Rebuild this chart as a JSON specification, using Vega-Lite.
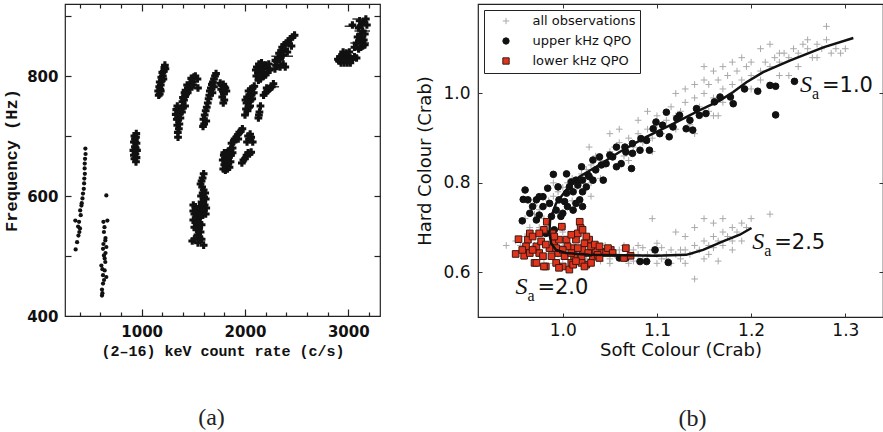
{
"$schema": "https://vega.github.io/schema/vega-lite/v6.json",
"padding": {"left": 2, "top": 2, "right": 0, "bottom": 0},
"background": "white",
"resolve": {"scale": {"fill": "independent", "stroke": "independent", "shape": "independent"}, "legend": {"fill": "independent", "stroke": "independent", "shape": "independent"}},
"config": {
  "view": {"stroke": "#222", "strokeWidth": 1.2},
  "concat": {"spacing": 34},
  "legend": {"orient": "top-left", "offset": 6, "padding": 4.5, "strokeColor": "#222", "fillColor": "white", "cornerRadius": 0, "labelFont": "DejaVu Sans", "labelFontSize": 13, "labelColor": "#111", "symbolSize": 40, "symbolStrokeWidth": 1, "labelOffset": 20, "symbolOffset": 11, "rowPadding": 6, "titleFontSize": 0}
},
"datasets": {
  "a_dots": [
    {"rate":455,"freq":679},{"rate":457,"freq":670},{"rate":452,"freq":662},{"rate":449,"freq":654},{"rate":448,"freq":646},{"rate":450,"freq":637},{"rate":445,"freq":629},{"rate":443,"freq":621},{"rate":440,"freq":612},{"rate":432,"freq":604},{"rate":427,"freq":596},{"rate":417,"freq":584},{"rate":405,"freq":576},{"rate":410,"freq":568},{"rate":394,"freq":557},{"rate":403,"freq":546},{"rate":388,"freq":534},{"rate":375,"freq":523},{"rate":361,"freq":511},{"rate":358,"freq":559},{"rate":385,"freq":549},{"rate":420,"freq":588},{"rate":397,"freq":540},
    {"rate":658,"freq":601},{"rate":668,"freq":559},{"rate":630,"freq":557},{"rate":640,"freq":548},{"rate":635,"freq":540},{"rate":650,"freq":530},{"rate":648,"freq":526},{"rate":626,"freq":512},{"rate":658,"freq":515},{"rate":635,"freq":501},{"rate":648,"freq":490},{"rate":610,"freq":484},{"rate":642,"freq":476},{"rate":658,"freq":465},{"rate":626,"freq":468},{"rate":626,"freq":454},{"rate":616,"freq":444},{"rate":616,"freq":434},{"rate":642,"freq":496},{"rate":630,"freq":520},{"rate":650,"freq":505},{"rate":620,"freq":478},{"rate":636,"freq":460},{"rate":620,"freq":438}
  ],
  "a_cross": [
    {"rate":930,"freq":700},{"rate":945,"freq":698},{"rate":925,"freq":690},{"rate":950,"freq":688},{"rate":935,"freq":682},{"rate":955,"freq":676},{"rate":920,"freq":676},{"rate":940,"freq":670},{"rate":930,"freq":662},{"rate":950,"freq":664},{"rate":945,"freq":657},{"rate":938,"freq":690},{"rate":925,"freq":668},{"rate":948,"freq":704},{"rate":935,"freq":695},{"rate":942,"freq":680},
    {"rate":1165,"freq":768},{"rate":1175,"freq":770},{"rate":1160,"freq":775},{"rate":1180,"freq":778},{"rate":1170,"freq":782},{"rate":1185,"freq":785},{"rate":1175,"freq":790},{"rate":1195,"freq":792},{"rate":1190,"freq":798},{"rate":1205,"freq":800},{"rate":1200,"freq":806},{"rate":1215,"freq":808},{"rate":1220,"freq":814},{"rate":1230,"freq":812},{"rate":1210,"freq":795},{"rate":1185,"freq":775},{"rate":1225,"freq":818},
    {"rate":1352,"freq":698},{"rate":1350,"freq":706},{"rate":1360,"freq":712},{"rate":1345,"freq":718},{"rate":1365,"freq":720},{"rate":1340,"freq":728},{"rate":1355,"freq":728},{"rate":1375,"freq":730},{"rate":1330,"freq":736},{"rate":1350,"freq":736},{"rate":1370,"freq":738},{"rate":1390,"freq":740},{"rate":1335,"freq":744},{"rate":1360,"freq":745},{"rate":1380,"freq":746},{"rate":1400,"freq":748},{"rate":1420,"freq":750},{"rate":1345,"freq":750},
    {"rate":1395,"freq":757},{"rate":1410,"freq":760},{"rate":1420,"freq":766},{"rate":1400,"freq":764},{"rate":1430,"freq":770},{"rate":1445,"freq":772},{"rate":1425,"freq":776},{"rate":1450,"freq":780},{"rate":1465,"freq":778},{"rate":1440,"freq":785},{"rate":1470,"freq":788},{"rate":1490,"freq":790},{"rate":1480,"freq":796},{"rate":1505,"freq":798},{"rate":1520,"freq":800},{"rate":1500,"freq":785},{"rate":1540,"freq":795},{"rate":1545,"freq":780},{"rate":1415,"freq":772},
    {"rate":1594,"freq":716},{"rate":1605,"freq":720},{"rate":1598,"freq":728},{"rate":1610,"freq":735},{"rate":1620,"freq":742},{"rate":1630,"freq":748},{"rate":1640,"freq":755},{"rate":1648,"freq":762},{"rate":1655,"freq":768},{"rate":1660,"freq":775},{"rate":1670,"freq":780},{"rate":1680,"freq":786},{"rate":1690,"freq":790},{"rate":1700,"freq":795},{"rate":1710,"freq":800},{"rate":1720,"freq":804},{"rate":1700,"freq":782},{"rate":1685,"freq":772},{"rate":1625,"freq":725},
    {"rate":1760,"freq":788},{"rate":1775,"freq":785},{"rate":1790,"freq":786},{"rate":1800,"freq":782},{"rate":1770,"freq":778},{"rate":1785,"freq":775},{"rate":1810,"freq":780},{"rate":1795,"freq":770},{"rate":1780,"freq":765},{"rate":1800,"freq":760},{"rate":1790,"freq":755},{"rate":1820,"freq":775},
    {"rate":1790,"freq":645},{"rate":1810,"freq":643},{"rate":1830,"freq":645},{"rate":1850,"freq":648},{"rate":1800,"freq":652},{"rate":1820,"freq":652},{"rate":1840,"freq":655},{"rate":1860,"freq":657},{"rate":1785,"freq":660},{"rate":1805,"freq":662},{"rate":1825,"freq":663},{"rate":1845,"freq":665},{"rate":1865,"freq":668},{"rate":1800,"freq":672},{"rate":1820,"freq":672},{"rate":1840,"freq":675},{"rate":1860,"freq":678},{"rate":1880,"freq":680},{"rate":1870,"freq":688},{"rate":1890,"freq":690},{"rate":1900,"freq":695},{"rate":1915,"freq":698},{"rate":1930,"freq":702},{"rate":1945,"freq":706},{"rate":1960,"freq":708},{"rate":1975,"freq":712},{"rate":1935,"freq":695},{"rate":1880,"freq":672},{"rate":1795,"freq":668},
    {"rate":2020,"freq":690},{"rate":2040,"freq":695},{"rate":2030,"freq":700},{"rate":2050,"freq":703},{"rate":2060,"freq":698},{"rate":2075,"freq":690},{"rate":1970,"freq":655},{"rate":1985,"freq":660},{"rate":2000,"freq":662},{"rate":2015,"freq":668},{"rate":2030,"freq":672},{"rate":2045,"freq":670},{"rate":2060,"freq":673},
    {"rate":2010,"freq":745},{"rate":2025,"freq":742},{"rate":2040,"freq":748},{"rate":2015,"freq":755},{"rate":2035,"freq":758},{"rate":2055,"freq":760},{"rate":2020,"freq":765},{"rate":2045,"freq":768},{"rate":2065,"freq":770},{"rate":2035,"freq":775},{"rate":2055,"freq":778},{"rate":2075,"freq":780},{"rate":2085,"freq":772},{"rate":2000,"freq":735},{"rate":2050,"freq":750},{"rate":2070,"freq":762},{"rate":2090,"freq":783},{"rate":2005,"freq":760},
    {"rate":2130,"freq":730},{"rate":2140,"freq":740},{"rate":2150,"freq":750},{"rate":2135,"freq":735},{"rate":2180,"freq":768},{"rate":2200,"freq":772},{"rate":2215,"freq":775},{"rate":2230,"freq":778},{"rate":2245,"freq":780},{"rate":2260,"freq":782},{"rate":2275,"freq":787},{"rate":2210,"freq":780},
    {"rate":2110,"freq":800},{"rate":2125,"freq":805},{"rate":2140,"freq":810},{"rate":2155,"freq":808},{"rate":2170,"freq":815},{"rate":2185,"freq":812},{"rate":2200,"freq":818},{"rate":2215,"freq":815},{"rate":2230,"freq":820},{"rate":2115,"freq":815},{"rate":2135,"freq":820},{"rate":2160,"freq":822},{"rate":2180,"freq":800},{"rate":2200,"freq":802},{"rate":2220,"freq":806},{"rate":2240,"freq":810},{"rate":2105,"freq":810},{"rate":2150,"freq":795},{"rate":2130,"freq":793},
    {"rate":2290,"freq":812},{"rate":2300,"freq":818},{"rate":2310,"freq":824},{"rate":2295,"freq":826},{"rate":2320,"freq":830},{"rate":2340,"freq":828},{"rate":2330,"freq":838},{"rate":2350,"freq":842},{"rate":2370,"freq":835},{"rate":2360,"freq":848},{"rate":2380,"freq":852},{"rate":2400,"freq":855},{"rate":2390,"freq":845},{"rate":2420,"freq":858},{"rate":2440,"freq":862},{"rate":2460,"freq":865},{"rate":2480,"freq":868},{"rate":2410,"freq":840},{"rate":2370,"freq":820},{"rate":2390,"freq":815},{"rate":2450,"freq":850},{"rate":2340,"freq":815},
    {"rate":2900,"freq":828},{"rate":2920,"freq":832},{"rate":2940,"freq":835},{"rate":2960,"freq":830},{"rate":2980,"freq":828},{"rate":3000,"freq":832},{"rate":3020,"freq":830},{"rate":3040,"freq":828},{"rate":3060,"freq":832},{"rate":2930,"freq":822},{"rate":2960,"freq":822},{"rate":2990,"freq":822},{"rate":3020,"freq":822},{"rate":2950,"freq":840},{"rate":2980,"freq":838},{"rate":3010,"freq":840},{"rate":2910,"freq":825},{"rate":3080,"freq":830},
    {"rate":3100,"freq":845},{"rate":3120,"freq":848},{"rate":3140,"freq":850},{"rate":3160,"freq":852},{"rate":3080,"freq":855},{"rate":3110,"freq":858},{"rate":3150,"freq":860},{"rate":3090,"freq":865},{"rate":3120,"freq":870},{"rate":3140,"freq":875},{"rate":3100,"freq":880},{"rate":3130,"freq":885},{"rate":3150,"freq":890},{"rate":3170,"freq":895},{"rate":3110,"freq":892},{"rate":3180,"freq":885},{"rate":3040,"freq":885},{"rate":3160,"freq":870},{"rate":3130,"freq":862},{"rate":3060,"freq":848},
    {"rate":1600,"freq":637},{"rate":1590,"freq":630},{"rate":1580,"freq":625},{"rate":1570,"freq":620},{"rate":1585,"freq":615},{"rate":1600,"freq":610},{"rate":1615,"freq":605},{"rate":1590,"freq":605},{"rate":1575,"freq":600},{"rate":1605,"freq":598},{"rate":1620,"freq":595},{"rate":1580,"freq":590},{"rate":1595,"freq":588},{"rate":1610,"freq":585},{"rate":1625,"freq":580},{"rate":1560,"freq":582},
    {"rate":1500,"freq":585},{"rate":1520,"freq":582},{"rate":1540,"freq":578},{"rate":1560,"freq":575},{"rate":1580,"freq":578},{"rate":1600,"freq":575},{"rate":1510,"freq":570},{"rate":1530,"freq":568},{"rate":1550,"freq":566},{"rate":1570,"freq":565},{"rate":1590,"freq":568},{"rate":1500,"freq":560},{"rate":1520,"freq":556},{"rate":1540,"freq":555},{"rate":1560,"freq":555},{"rate":1580,"freq":552},{"rate":1510,"freq":548},{"rate":1530,"freq":544},{"rate":1555,"freq":545},{"rate":1570,"freq":540},{"rate":1540,"freq":535},{"rate":1560,"freq":530},{"rate":1545,"freq":522},{"rate":1490,"freq":525},{"rate":1510,"freq":528},{"rate":1580,"freq":528},{"rate":1600,"freq":518},{"rate":1500,"freq":575},{"rate":1620,"freq":570}
  ],
  "a_err": [
    {"lo":2255,"hi":2465,"freq":833},{"lo":2290,"hi":2400,"freq":818},{"lo":2965,"hi":3126,"freq":883},{"lo":3020,"hi":3200,"freq":855},{"lo":3060,"hi":3210,"freq":875},{"lo":3040,"hi":3150,"freq":895},{"lo":2960,"hi":3080,"freq":830},{"lo":2250,"hi":2330,"freq":782},{"lo":2130,"hi":2210,"freq":805}
  ],
  "b_pts": [
    {"set":"all observations","soft":0.975,"hard":0.74},{"set":"all observations","soft":0.985,"hard":0.76},{"set":"all observations","soft":0.99,"hard":0.77},{"set":"all observations","soft":0.98,"hard":0.72},{"set":"all observations","soft":0.995,"hard":0.78},{"set":"all observations","soft":1.0,"hard":0.79},{"set":"all observations","soft":1.005,"hard":0.8},{"set":"all observations","soft":0.99,"hard":0.8},{"set":"all observations","soft":1.01,"hard":0.81},{"set":"all observations","soft":1.02,"hard":0.82},{"set":"all observations","soft":1.015,"hard":0.79},{"set":"all observations","soft":0.97,"hard":0.75},{"set":"all observations","soft":0.965,"hard":0.7},{"set":"all observations","soft":0.96,"hard":0.72},{"set":"all observations","soft":1.03,"hard":0.77},{"set":"all observations","soft":1.01,"hard":0.76},
    {"set":"all observations","soft":1.025,"hard":0.83},{"set":"all observations","soft":1.03,"hard":0.84},{"set":"all observations","soft":1.04,"hard":0.85},{"set":"all observations","soft":1.035,"hard":0.86},{"set":"all observations","soft":1.05,"hard":0.87},{"set":"all observations","soft":1.045,"hard":0.84},{"set":"all observations","soft":1.055,"hard":0.88},{"set":"all observations","soft":1.06,"hard":0.89},{"set":"all observations","soft":1.065,"hard":0.86},{"set":"all observations","soft":1.07,"hard":0.9},{"set":"all observations","soft":1.075,"hard":0.88},{"set":"all observations","soft":1.08,"hard":0.91},{"set":"all observations","soft":1.085,"hard":0.89},{"set":"all observations","soft":1.09,"hard":0.92},{"set":"all observations","soft":1.095,"hard":0.9},{"set":"all observations","soft":1.1,"hard":0.93},{"set":"all observations","soft":1.105,"hard":0.91},{"set":"all observations","soft":1.028,"hard":0.88},{"set":"all observations","soft":1.05,"hard":0.91},{"set":"all observations","soft":1.06,"hard":0.92},{"set":"all observations","soft":1.08,"hard":0.94},{"set":"all observations","soft":1.09,"hard":0.96},{"set":"all observations","soft":1.1,"hard":0.95},{"set":"all observations","soft":1.04,"hard":0.81},{"set":"all observations","soft":1.07,"hard":0.85},{"set":"all observations","soft":1.095,"hard":0.87},{"set":"all observations","soft":1.03,"hard":0.8},
    {"set":"all observations","soft":1.11,"hard":0.94},{"set":"all observations","soft":1.12,"hard":0.95},{"set":"all observations","soft":1.115,"hard":0.97},{"set":"all observations","soft":1.13,"hard":0.98},{"set":"all observations","soft":1.125,"hard":0.96},{"set":"all observations","soft":1.14,"hard":0.99},{"set":"all observations","soft":1.145,"hard":0.97},{"set":"all observations","soft":1.15,"hard":1.0},{"set":"all observations","soft":1.155,"hard":1.02},{"set":"all observations","soft":1.16,"hard":0.99},{"set":"all observations","soft":1.165,"hard":1.03},{"set":"all observations","soft":1.17,"hard":1.01},{"set":"all observations","soft":1.175,"hard":1.04},{"set":"all observations","soft":1.18,"hard":1.02},{"set":"all observations","soft":1.185,"hard":1.05},{"set":"all observations","soft":1.19,"hard":1.03},{"set":"all observations","soft":1.195,"hard":1.06},{"set":"all observations","soft":1.2,"hard":1.04},{"set":"all observations","soft":1.14,"hard":1.02},{"set":"all observations","soft":1.15,"hard":1.03},{"set":"all observations","soft":1.16,"hard":1.05},{"set":"all observations","soft":1.13,"hard":1.01},{"set":"all observations","soft":1.12,"hard":1.0},{"set":"all observations","soft":1.17,"hard":1.06},{"set":"all observations","soft":1.18,"hard":1.07},{"set":"all observations","soft":1.19,"hard":1.08},{"set":"all observations","soft":1.2,"hard":1.07},{"set":"all observations","soft":1.135,"hard":0.93},{"set":"all observations","soft":1.155,"hard":0.96},{"set":"all observations","soft":1.17,"hard":0.98},{"set":"all observations","soft":1.16,"hard":0.95},{"set":"all observations","soft":1.14,"hard":0.91},{"set":"all observations","soft":1.12,"hard":0.92},{"set":"all observations","soft":1.15,"hard":1.06},{"set":"all observations","soft":1.18,"hard":0.98},{"set":"all observations","soft":1.2,"hard":1.01},{"set":"all observations","soft":1.165,"hard":0.95},
    {"set":"all observations","soft":1.21,"hard":1.05},{"set":"all observations","soft":1.215,"hard":1.07},{"set":"all observations","soft":1.22,"hard":1.06},{"set":"all observations","soft":1.225,"hard":1.08},{"set":"all observations","soft":1.23,"hard":1.07},{"set":"all observations","soft":1.235,"hard":1.09},{"set":"all observations","soft":1.24,"hard":1.08},{"set":"all observations","soft":1.245,"hard":1.1},{"set":"all observations","soft":1.25,"hard":1.09},{"set":"all observations","soft":1.255,"hard":1.11},{"set":"all observations","soft":1.26,"hard":1.1},{"set":"all observations","soft":1.265,"hard":1.08},{"set":"all observations","soft":1.27,"hard":1.11},{"set":"all observations","soft":1.275,"hard":1.1},{"set":"all observations","soft":1.28,"hard":1.12},{"set":"all observations","soft":1.285,"hard":1.09},{"set":"all observations","soft":1.29,"hard":1.1},{"set":"all observations","soft":1.295,"hard":1.09},{"set":"all observations","soft":1.28,"hard":1.15},{"set":"all observations","soft":1.22,"hard":1.11},{"set":"all observations","soft":1.23,"hard":1.09},{"set":"all observations","soft":1.21,"hard":1.1},{"set":"all observations","soft":1.25,"hard":1.06},{"set":"all observations","soft":1.24,"hard":1.04},{"set":"all observations","soft":1.26,"hard":1.12},{"set":"all observations","soft":1.3,"hard":1.1},{"set":"all observations","soft":1.27,"hard":1.08},{"set":"all observations","soft":1.21,"hard":1.03},{"set":"all observations","soft":1.23,"hard":1.04},
    {"set":"all observations","soft":0.94,"hard":0.66},{"set":"all observations","soft":0.95,"hard":0.67},{"set":"all observations","soft":0.955,"hard":0.66},{"set":"all observations","soft":0.96,"hard":0.68},{"set":"all observations","soft":0.965,"hard":0.65},{"set":"all observations","soft":0.97,"hard":0.66},{"set":"all observations","soft":0.975,"hard":0.64},{"set":"all observations","soft":0.98,"hard":0.63},{"set":"all observations","soft":0.985,"hard":0.65},{"set":"all observations","soft":0.99,"hard":0.66},{"set":"all observations","soft":0.995,"hard":0.64},{"set":"all observations","soft":1.0,"hard":0.63},{"set":"all observations","soft":1.01,"hard":0.65},{"set":"all observations","soft":1.02,"hard":0.64},{"set":"all observations","soft":1.03,"hard":0.63},{"set":"all observations","soft":1.04,"hard":0.64},{"set":"all observations","soft":1.05,"hard":0.63},{"set":"all observations","soft":1.06,"hard":0.64},{"set":"all observations","soft":1.07,"hard":0.63},{"set":"all observations","soft":1.075,"hard":0.65},{"set":"all observations","soft":1.08,"hard":0.64},{"set":"all observations","soft":1.085,"hard":0.63},{"set":"all observations","soft":1.09,"hard":0.64},{"set":"all observations","soft":1.095,"hard":0.65},{"set":"all observations","soft":1.1,"hard":0.64},{"set":"all observations","soft":1.105,"hard":0.63},{"set":"all observations","soft":1.11,"hard":0.64},{"set":"all observations","soft":1.115,"hard":0.65},{"set":"all observations","soft":1.12,"hard":0.64},{"set":"all observations","soft":1.125,"hard":0.63},{"set":"all observations","soft":1.13,"hard":0.65},{"set":"all observations","soft":1.135,"hard":0.64},{"set":"all observations","soft":1.14,"hard":0.66},{"set":"all observations","soft":1.145,"hard":0.65},{"set":"all observations","soft":1.15,"hard":0.67},{"set":"all observations","soft":1.155,"hard":0.66},{"set":"all observations","soft":1.16,"hard":0.68},{"set":"all observations","soft":1.165,"hard":0.67},{"set":"all observations","soft":1.17,"hard":0.69},{"set":"all observations","soft":1.175,"hard":0.68},{"set":"all observations","soft":1.18,"hard":0.7},{"set":"all observations","soft":1.185,"hard":0.69},{"set":"all observations","soft":1.19,"hard":0.71},{"set":"all observations","soft":1.195,"hard":0.7},{"set":"all observations","soft":1.2,"hard":0.72},{"set":"all observations","soft":1.13,"hard":0.68},{"set":"all observations","soft":1.14,"hard":0.7},{"set":"all observations","soft":1.15,"hard":0.72},{"set":"all observations","soft":1.16,"hard":0.71},{"set":"all observations","soft":1.17,"hard":0.72},{"set":"all observations","soft":1.18,"hard":0.65},{"set":"all observations","soft":1.19,"hard":0.67},{"set":"all observations","soft":1.165,"hard":0.625},{"set":"all observations","soft":1.15,"hard":0.63},{"set":"all observations","soft":1.14,"hard":0.585},{"set":"all observations","soft":1.12,"hard":0.69},{"set":"all observations","soft":1.08,"hard":0.66},{"set":"all observations","soft":1.06,"hard":0.65},{"set":"all observations","soft":1.05,"hard":0.62},{"set":"all observations","soft":1.04,"hard":0.625},{"set":"all observations","soft":1.1,"hard":0.62},{"set":"all observations","soft":1.11,"hard":0.63},{"set":"all observations","soft":1.125,"hard":0.65},{"set":"all observations","soft":1.09,"hard":0.625},{"set":"all observations","soft":1.07,"hard":0.62},{"set":"all observations","soft":1.035,"hard":0.65},{"set":"all observations","soft":1.025,"hard":0.63},{"set":"all observations","soft":1.015,"hard":0.62},{"set":"all observations","soft":1.0,"hard":0.66},{"set":"all observations","soft":0.99,"hard":0.62},{"set":"all observations","soft":0.98,"hard":0.69},{"set":"all observations","soft":0.975,"hard":0.7},{"set":"all observations","soft":0.97,"hard":0.73},{"set":"all observations","soft":1.0,"hard":0.69},{"set":"all observations","soft":1.22,"hard":0.73},{"set":"all observations","soft":1.095,"hard":0.72},{"set":"all observations","soft":1.1,"hard":0.665},{"set":"all observations","soft":1.13,"hard":0.62},{"set":"all observations","soft":1.155,"hard":0.64},{"set":"all observations","soft":1.17,"hard":0.66},{"set":"all observations","soft":1.18,"hard":0.67},{"set":"all observations","soft":1.045,"hard":0.66},{"set":"all observations","soft":1.055,"hard":0.64},{"set":"all observations","soft":1.065,"hard":0.66},{"set":"all observations","soft":1.075,"hard":0.625},{"set":"all observations","soft":1.085,"hard":0.655},{"set":"all observations","soft":1.02,"hard":0.66},{"set":"all observations","soft":1.105,"hard":0.655},{"set":"all observations","soft":1.115,"hard":0.62},{"set":"all observations","soft":1.16,"hard":0.655},
    {"set":"upper kHz QPO","soft":0.96,"hard":0.784},{"set":"upper kHz QPO","soft":0.958,"hard":0.763},{"set":"upper kHz QPO","soft":0.957,"hard":0.715},{"set":"upper kHz QPO","soft":0.965,"hard":0.732},{"set":"upper kHz QPO","soft":0.972,"hard":0.762},{"set":"upper kHz QPO","soft":0.975,"hard":0.728},{"set":"upper kHz QPO","soft":0.979,"hard":0.769},{"set":"upper kHz QPO","soft":0.984,"hard":0.788},{"set":"upper kHz QPO","soft":0.99,"hard":0.819},{"set":"upper kHz QPO","soft":1.004,"hard":0.82},{"set":"upper kHz QPO","soft":0.996,"hard":0.762},{"set":"upper kHz QPO","soft":1.0,"hard":0.732},{"set":"upper kHz QPO","soft":1.007,"hard":0.791},{"set":"upper kHz QPO","soft":1.014,"hard":0.806},{"set":"upper kHz QPO","soft":1.02,"hard":0.836},{"set":"upper kHz QPO","soft":1.025,"hard":0.791},{"set":"upper kHz QPO","soft":1.021,"hard":0.747},{"set":"upper kHz QPO","soft":1.032,"hard":0.806},{"set":"upper kHz QPO","soft":1.039,"hard":0.858},{"set":"upper kHz QPO","soft":1.043,"hard":0.806},{"set":"upper kHz QPO","soft":1.046,"hard":0.843},{"set":"upper kHz QPO","soft":1.057,"hard":0.836},{"set":"upper kHz QPO","soft":1.062,"hard":0.843},{"set":"upper kHz QPO","soft":1.073,"hard":0.832},{"set":"upper kHz QPO","soft":1.066,"hard":0.88},{"set":"upper kHz QPO","soft":1.074,"hard":0.866},{"set":"upper kHz QPO","soft":1.082,"hard":0.873},{"set":"upper kHz QPO","soft":1.083,"hard":0.899},{"set":"upper kHz QPO","soft":1.092,"hard":0.873},{"set":"upper kHz QPO","soft":1.096,"hard":0.921},{"set":"upper kHz QPO","soft":1.103,"hard":0.91},{"set":"upper kHz QPO","soft":1.113,"hard":0.903},{"set":"upper kHz QPO","soft":1.11,"hard":0.958},{"set":"upper kHz QPO","soft":1.121,"hard":0.944},{"set":"upper kHz QPO","soft":1.131,"hard":0.921},{"set":"upper kHz QPO","soft":1.138,"hard":0.918},{"set":"upper kHz QPO","soft":1.142,"hard":0.966},{"set":"upper kHz QPO","soft":1.152,"hard":0.955},{"set":"upper kHz QPO","soft":1.167,"hard":0.992},{"set":"upper kHz QPO","soft":1.181,"hard":0.977},{"set":"upper kHz QPO","soft":1.193,"hard":1.01},{"set":"upper kHz QPO","soft":1.207,"hard":1.005},{"set":"upper kHz QPO","soft":1.22,"hard":1.018},{"set":"upper kHz QPO","soft":1.226,"hard":1.016},{"set":"upper kHz QPO","soft":1.226,"hard":0.952},{"set":"upper kHz QPO","soft":1.246,"hard":1.027},{"set":"upper kHz QPO","soft":1.178,"hard":0.992},{"set":"upper kHz QPO","soft":1.161,"hard":0.981},{"set":"upper kHz QPO","soft":1.124,"hard":0.951},{"set":"upper kHz QPO","soft":1.099,"hard":0.936},{"set":"upper kHz QPO","soft":1.074,"hard":0.888},{"set":"upper kHz QPO","soft":1.057,"hard":0.88},{"set":"upper kHz QPO","soft":1.05,"hard":0.862},{"set":"upper kHz QPO","soft":1.032,"hard":0.851},{"set":"upper kHz QPO","soft":1.027,"hard":0.817},{"set":"upper kHz QPO","soft":1.011,"hard":0.78},{"set":"upper kHz QPO","soft":1.002,"hard":0.758},{"set":"upper kHz QPO","soft":0.993,"hard":0.739},{"set":"upper kHz QPO","soft":0.988,"hard":0.725},{"set":"upper kHz QPO","soft":0.982,"hard":0.687},{"set":"upper kHz QPO","soft":0.991,"hard":0.695},{"set":"upper kHz QPO","soft":0.999,"hard":0.702},{"set":"upper kHz QPO","soft":0.975,"hard":0.769},{"set":"upper kHz QPO","soft":0.968,"hard":0.747},{"set":"upper kHz QPO","soft":1.011,"hard":0.739},{"set":"upper kHz QPO","soft":1.018,"hard":0.762},{"set":"upper kHz QPO","soft":1.028,"hard":0.814},{"set":"upper kHz QPO","soft":1.035,"hard":0.829},{"set":"upper kHz QPO","soft":1.041,"hard":0.84},{"set":"upper kHz QPO","soft":1.053,"hard":0.858},{"set":"upper kHz QPO","soft":1.067,"hard":0.869},{"set":"upper kHz QPO","soft":1.089,"hard":0.895},{"set":"upper kHz QPO","soft":1.106,"hard":0.929},{"set":"upper kHz QPO","soft":1.117,"hard":0.925},{"set":"upper kHz QPO","soft":1.135,"hard":0.94},{"set":"upper kHz QPO","soft":1.145,"hard":0.951},{"set":"upper kHz QPO","soft":1.082,"hard":0.624},{"set":"upper kHz QPO","soft":1.089,"hard":0.624},{"set":"upper kHz QPO","soft":1.098,"hard":0.65},{"set":"upper kHz QPO","soft":1.112,"hard":0.622},{"set":"upper kHz QPO","soft":1.067,"hard":0.632},{"set":"upper kHz QPO","soft":1.06,"hard":0.632},{"set":"upper kHz QPO","soft":1.009,"hard":0.802},{"set":"upper kHz QPO","soft":1.016,"hard":0.795},{"set":"upper kHz QPO","soft":1.021,"hard":0.806},{"set":"upper kHz QPO","soft":1.004,"hard":0.777},{"set":"upper kHz QPO","soft":0.995,"hard":0.791},{"set":"upper kHz QPO","soft":1.021,"hard":0.78},{"set":"upper kHz QPO","soft":1.014,"hard":0.754},{"set":"upper kHz QPO","soft":1.005,"hard":0.747},{"set":"upper kHz QPO","soft":0.998,"hard":0.725},{"set":"upper kHz QPO","soft":0.986,"hard":0.754},{"set":"upper kHz QPO","soft":0.979,"hard":0.747},{"set":"upper kHz QPO","soft":0.972,"hard":0.717},{"set":"upper kHz QPO","soft":0.963,"hard":0.762},
    {"set":"lower kHz QPO","soft":0.95,"hard":0.641},{"set":"lower kHz QPO","soft":0.959,"hard":0.637},{"set":"lower kHz QPO","soft":0.963,"hard":0.673},{"set":"lower kHz QPO","soft":0.965,"hard":0.687},{"set":"lower kHz QPO","soft":0.97,"hard":0.621},{"set":"lower kHz QPO","soft":0.975,"hard":0.643},{"set":"lower kHz QPO","soft":0.982,"hard":0.613},{"set":"lower kHz QPO","soft":0.983,"hard":0.713},{"set":"lower kHz QPO","soft":0.98,"hard":0.695},{"set":"lower kHz QPO","soft":0.989,"hard":0.687},{"set":"lower kHz QPO","soft":0.991,"hard":0.665},{"set":"lower kHz QPO","soft":0.995,"hard":0.643},{"set":"lower kHz QPO","soft":0.999,"hard":0.702},{"set":"lower kHz QPO","soft":1.0,"hard":0.613},{"set":"lower kHz QPO","soft":1.004,"hard":0.673},{"set":"lower kHz QPO","soft":1.009,"hard":0.621},{"set":"lower kHz QPO","soft":1.011,"hard":0.654},{"set":"lower kHz QPO","soft":1.014,"hard":0.673},{"set":"lower kHz QPO","soft":1.018,"hard":0.713},{"set":"lower kHz QPO","soft":1.019,"hard":0.699},{"set":"lower kHz QPO","soft":1.021,"hard":0.65},{"set":"lower kHz QPO","soft":1.025,"hard":0.617},{"set":"lower kHz QPO","soft":1.028,"hard":0.673},{"set":"lower kHz QPO","soft":1.032,"hard":0.635},{"set":"lower kHz QPO","soft":1.035,"hard":0.65},{"set":"lower kHz QPO","soft":1.043,"hard":0.646},{"set":"lower kHz QPO","soft":1.051,"hard":0.65},{"set":"lower kHz QPO","soft":1.067,"hard":0.654},{"set":"lower kHz QPO","soft":1.072,"hard":0.637},{"set":"lower kHz QPO","soft":1.065,"hard":0.632},{"set":"lower kHz QPO","soft":0.953,"hard":0.674},{"set":"lower kHz QPO","soft":0.961,"hard":0.658},{"set":"lower kHz QPO","soft":0.968,"hard":0.68},{"set":"lower kHz QPO","soft":0.972,"hard":0.658},{"set":"lower kHz QPO","soft":0.977,"hard":0.669},{"set":"lower kHz QPO","soft":0.979,"hard":0.636},{"set":"lower kHz QPO","soft":0.986,"hard":0.654},{"set":"lower kHz QPO","soft":0.988,"hard":0.636},{"set":"lower kHz QPO","soft":0.996,"hard":0.673},{"set":"lower kHz QPO","soft":1.002,"hard":0.636},{"set":"lower kHz QPO","soft":1.005,"hard":0.658},{"set":"lower kHz QPO","soft":1.012,"hard":0.636},{"set":"lower kHz QPO","soft":1.016,"hard":0.654},{"set":"lower kHz QPO","soft":1.02,"hard":0.632},{"set":"lower kHz QPO","soft":1.023,"hard":0.665},{"set":"lower kHz QPO","soft":1.027,"hard":0.643},{"set":"lower kHz QPO","soft":1.03,"hard":0.658},{"set":"lower kHz QPO","soft":1.034,"hard":0.662},{"set":"lower kHz QPO","soft":1.037,"hard":0.639},{"set":"lower kHz QPO","soft":1.039,"hard":0.658},{"set":"lower kHz QPO","soft":1.046,"hard":0.643},{"set":"lower kHz QPO","soft":1.048,"hard":0.654},{"set":"lower kHz QPO","soft":1.053,"hard":0.643},{"set":"lower kHz QPO","soft":0.965,"hard":0.643},{"set":"lower kHz QPO","soft":0.957,"hard":0.65},{"set":"lower kHz QPO","soft":0.972,"hard":0.621},{"set":"lower kHz QPO","soft":0.98,"hard":0.613},{"set":"lower kHz QPO","soft":0.993,"hard":0.621},{"set":"lower kHz QPO","soft":0.996,"hard":0.61},{"set":"lower kHz QPO","soft":1.007,"hard":0.606},{"set":"lower kHz QPO","soft":1.011,"hard":0.617},{"set":"lower kHz QPO","soft":1.02,"hard":0.621},{"set":"lower kHz QPO","soft":1.023,"hard":0.613},{"set":"lower kHz QPO","soft":0.975,"hard":0.687},{"set":"lower kHz QPO","soft":0.991,"hard":0.68},{"set":"lower kHz QPO","soft":1.009,"hard":0.684},{"set":"lower kHz QPO","soft":1.025,"hard":0.68},{"set":"lower kHz QPO","soft":0.968,"hard":0.65},{"set":"lower kHz QPO","soft":0.982,"hard":0.662},{"set":"lower kHz QPO","soft":0.993,"hard":0.654},{"set":"lower kHz QPO","soft":1.0,"hard":0.65},{"set":"lower kHz QPO","soft":1.009,"hard":0.643},{"set":"lower kHz QPO","soft":1.014,"hard":0.625},{"set":"lower kHz QPO","soft":1.03,"hard":0.621},{"set":"lower kHz QPO","soft":1.039,"hard":0.632},{"set":"lower kHz QPO","soft":1.016,"hard":0.687},{"set":"lower kHz QPO","soft":1.021,"hard":0.695}
  ],
  "b_curve": [
    {"i":1,"soft":1.3085,"hard":1.124},{"i":2,"soft":1.2766,"hard":1.103},{"i":3,"soft":1.241,"hard":1.0735},{"i":4,"soft":1.2128,"hard":1.0475},{"i":5,"soft":1.195,"hard":1.025},{"i":6,"soft":1.181,"hard":1.003},{"i":7,"soft":1.1667,"hard":0.984},{"i":8,"soft":1.145,"hard":0.962},{"i":9,"soft":1.117,"hard":0.932},{"i":10,"soft":1.0887,"hard":0.903},{"i":11,"soft":1.0603,"hard":0.869},{"i":12,"soft":1.0355,"hard":0.836},{"i":13,"soft":1.0177,"hard":0.8137},{"i":14,"soft":1.0035,"hard":0.784},{"i":15,"soft":0.9929,"hard":0.754},{"i":16,"soft":0.9865,"hard":0.717},{"i":17,"soft":0.9858,"hard":0.6875},{"i":18,"soft":0.9876,"hard":0.665},{"i":19,"soft":0.9929,"hard":0.65},{"i":20,"soft":1.0035,"hard":0.643},{"i":21,"soft":1.028,"hard":0.639},{"i":22,"soft":1.0638,"hard":0.638},{"i":23,"soft":1.0993,"hard":0.637},{"i":24,"soft":1.131,"hard":0.639},{"i":25,"soft":1.149,"hard":0.65},{"i":26,"soft":1.17,"hard":0.669},{"i":27,"soft":1.188,"hard":0.684},{"i":28,"soft":1.2004,"hard":0.699}
  ],
  "b_lab": [
    {"soft":1.2518,"hard":1.003,"val":"=1.0"},{"soft":1.2011,"hard":0.652,"val":"=2.5"},{"soft":0.9497,"hard":0.552,"val":"=2.0"}
  ]
},
"hconcat": [
  {
    "width": 315, "height": 312,
    "title": {"text": "(a)", "orient": "bottom", "anchor": "middle", "frame": "group", "dx": -11, "offset": 48, "font": "Liberation Serif", "fontSize": 24, "fontWeight": "normal", "color": "#222"},
    "resolve": {"axis": {"x": "independent", "y": "independent"}},
    "layer": [
      {
        "data": {"name": "a_dots"},
        "mark": {"type": "point", "shape": "circle", "filled": true, "size": 18, "color": "#111", "opacity": 1},
        "encoding": {
          "x": {"field": "rate", "type": "quantitative", "scale": {"domain": [258, 3307], "nice": false, "zero": false},
                "axis": {"orient": "bottom", "values": [1000, 2000, 3000], "format": "d", "ticks": false, "domain": false, "grid": false, "labelFont": "DejaVu Sans", "labelFontWeight": "bold", "labelFontSize": 15, "labelColor": "#111", "labelPadding": 8, "title": "(2–16) keV count rate (c/s)", "titleFont": "Liberation Mono", "titleFontWeight": "bold", "titleFontSize": 15, "titleColor": "#111", "titlePadding": 4}},
          "y": {"field": "freq", "type": "quantitative", "scale": {"domain": [400, 920], "nice": false, "zero": false},
                "axis": {"orient": "left", "values": [400, 600, 800], "format": "d", "ticks": false, "domain": false, "grid": false, "labelFont": "DejaVu Sans", "labelFontWeight": "bold", "labelFontSize": 15, "labelColor": "#111", "labelPadding": 7, "title": "Frequency (Hz)", "titleFont": "Liberation Mono", "titleFontWeight": "bold", "titleFontSize": 17, "titleColor": "#111", "titlePadding": 6}}
        }
      },
      {
        "data": {"name": "a_cross"},
        "mark": {"type": "point", "shape": "cross", "filled": true, "size": 60, "color": "#111", "opacity": 1},
        "encoding": {
          "x": {"field": "rate", "type": "quantitative", "scale": {"domain": [258, 3307], "nice": false, "zero": false},
                "axis": {"orient": "bottom", "values": [400,600,800,1000,1200,1400,1600,1800,2000,2200,2400,2600,2800,3000,3200], "labels": false, "domain": false, "grid": false, "title": null, "tickColor": "#222", "tickWidth": 1.2, "tickSize": {"condition": {"test": "datum.value % 1000 === 0", "value": -7}, "value": -4}}},
          "y": {"field": "freq", "type": "quantitative", "scale": {"domain": [400, 920], "nice": false, "zero": false},
                "axis": {"orient": "left", "values": [500, 600, 700, 800, 900], "labels": false, "domain": false, "grid": false, "title": null, "tickColor": "#222", "tickWidth": 1.2, "tickSize": -6}}
        }
      },
      {
        "data": {"name": "a_err"},
        "mark": {"type": "rule", "color": "#111", "strokeWidth": 1.3},
        "encoding": {
          "x": {"field": "lo", "type": "quantitative", "scale": {"domain": [258, 3307], "nice": false, "zero": false},
                "axis": {"orient": "top", "values": [400,600,800,1000,1200,1400,1600,1800,2000,2200,2400,2600,2800,3000,3200], "labels": false, "domain": false, "grid": false, "title": null, "tickColor": "#222", "tickWidth": 1.2, "tickSize": {"condition": {"test": "datum.value % 1000 === 0", "value": -7}, "value": -4}}},
          "x2": {"field": "hi"},
          "y": {"field": "freq", "type": "quantitative", "scale": {"domain": [400, 920], "nice": false, "zero": false},
                "axis": {"orient": "right", "values": [500, 600, 700, 800, 900], "labels": false, "domain": false, "grid": false, "title": null, "tickColor": "#222", "tickWidth": 1.2, "tickSize": -6}}
        }
      }
    ]
  },
  {
    "width": 405, "height": 313,
    "title": {"text": "(b)", "orient": "bottom", "anchor": "middle", "frame": "group", "dx": 12, "offset": 48, "font": "Liberation Serif", "fontSize": 24, "fontWeight": "normal", "color": "#222"},
    "resolve": {"axis": {"x": "independent", "y": "independent"}},
    "layer": [
      {
        "data": {"name": "b_pts"},
        "mark": {"type": "point", "filled": true, "size": 44, "strokeWidth": 1, "opacity": 1},
        "encoding": {
          "x": {"field": "soft", "type": "quantitative", "scale": {"domain": [0.91, 1.34], "nice": false, "zero": false},
                "axis": {"orient": "bottom", "values": [1.0, 1.1, 1.2, 1.3], "format": ".1f", "ticks": false, "domain": false, "grid": false, "labelFont": "DejaVu Sans", "labelFontSize": 17, "labelColor": "#111", "labelPadding": 5, "title": "Soft Colour (Crab)", "titleFont": "DejaVu Sans", "titleFontSize": 18, "titleFontWeight": "normal", "titleColor": "#111", "titlePadding": 3}},
          "y": {"field": "hard", "type": "quantitative", "scale": {"domain": [0.5, 1.2], "nice": false, "zero": false},
                "axis": {"orient": "left", "values": [0.6, 0.8, 1.0], "format": ".1f", "ticks": false, "domain": false, "grid": false, "labelFont": "DejaVu Sans", "labelFontSize": 17, "labelColor": "#111", "labelPadding": 8, "title": "Hard Colour (Crab)", "titleFont": "DejaVu Sans", "titleFontSize": 18, "titleFontWeight": "normal", "titleColor": "#111", "titlePadding": 8}},
          "fill": {"field": "set", "type": "nominal", "scale": {"domain": ["all observations", "upper kHz QPO", "lower kHz QPO"], "range": ["transparent", "#111111", "#e2341d"]}, "legend": {"title": null}},
          "stroke": {"field": "set", "type": "nominal", "scale": {"domain": ["all observations", "upper kHz QPO", "lower kHz QPO"], "range": ["#a9a9a9", "#111111", "#3a1a12"]}, "legend": {"title": null}},
          "shape": {"field": "set", "type": "nominal", "scale": {"domain": ["all observations", "upper kHz QPO", "lower kHz QPO"], "range": ["M-1,0H1M0,-1V1", "circle", "square"]}, "legend": {"title": null}}
        }
      },
      {
        "data": {"name": "b_curve"},
        "mark": {"type": "line", "color": "#111", "strokeWidth": 2.5},
        "encoding": {
          "x": {"field": "soft", "type": "quantitative", "scale": {"domain": [0.91, 1.34], "nice": false, "zero": false},
                "axis": {"orient": "bottom", "values": [1.0, 1.1, 1.2, 1.3], "labels": false, "domain": false, "grid": false, "title": null, "tickColor": "#333", "tickSize": -4}},
          "y": {"field": "hard", "type": "quantitative", "scale": {"domain": [0.5, 1.2], "nice": false, "zero": false},
                "axis": {"orient": "left", "values": [0.6, 0.8, 1.0], "labels": false, "domain": false, "grid": false, "title": null, "tickColor": "#333", "tickSize": -4}},
          "order": {"field": "i", "type": "quantitative"}
        }
      },
      {
        "data": {"name": "b_lab"},
        "mark": {"type": "text", "text": "S", "font": "Liberation Serif", "fontStyle": "italic", "fontSize": 24, "align": "left", "baseline": "alphabetic", "color": "#111"},
        "encoding": {
          "x": {"field": "soft", "type": "quantitative", "scale": {"domain": [0.91, 1.34], "nice": false, "zero": false},
                "axis": {"orient": "top", "values": [1.0, 1.1, 1.2, 1.3], "labels": false, "domain": false, "grid": false, "title": null, "tickColor": "#333", "tickSize": -4}},
          "y": {"field": "hard", "type": "quantitative", "scale": {"domain": [0.5, 1.2], "nice": false, "zero": false},
                "axis": {"orient": "right", "values": [0.6, 0.8, 1.0], "labels": false, "domain": false, "grid": false, "title": null, "tickColor": "#333", "tickSize": -4}}
        }
      },
      {
        "data": {"name": "b_lab"},
        "mark": {"type": "text", "text": "a", "font": "Liberation Serif", "fontSize": 16, "align": "left", "baseline": "alphabetic", "dx": 12, "dy": 7, "color": "#111"},
        "encoding": {
          "x": {"field": "soft", "type": "quantitative", "axis": null},
          "y": {"field": "hard", "type": "quantitative", "axis": null}
        }
      },
      {
        "data": {"name": "b_lab"},
        "mark": {"type": "text", "font": "DejaVu Sans", "fontSize": 21, "align": "left", "baseline": "alphabetic", "dx": 22, "color": "#111"},
        "encoding": {
          "x": {"field": "soft", "type": "quantitative", "axis": null},
          "y": {"field": "hard", "type": "quantitative", "axis": null},
          "text": {"field": "val", "type": "nominal"}
        }
      }
    ]
  }
]
}
